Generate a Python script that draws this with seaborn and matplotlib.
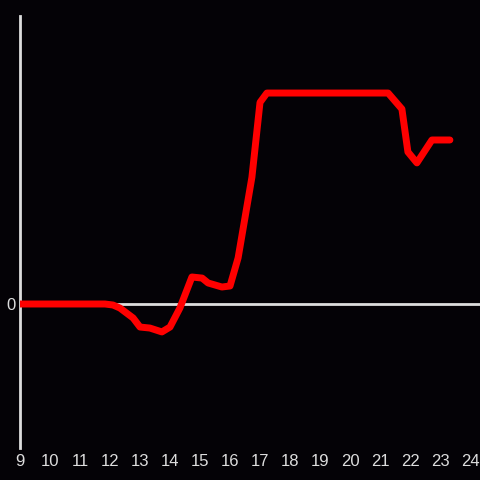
import matplotlib
matplotlib.use("Agg")
import matplotlib.pyplot as plt
import seaborn as sns
import pandas as pd

hours = [9, 11.83, 12.1, 12.33, 12.77, 13.0, 13.33, 13.73, 14.0, 14.33, 14.73,
         15.07, 15.27, 15.73, 16.0, 16.27, 16.73, 17.0, 17.23, 21.27, 21.73,
         21.93, 22.23, 22.73, 23.33]
values = [0, 0, -0.007, -0.028, -0.097, -0.16, -0.167, -0.194, -0.16, -0.028, 0.1875,
          0.18, 0.146, 0.118, 0.125, 0.32, 0.88, 1.40, 1.465, 1.465, 1.354,
          1.056, 0.98, 1.139, 1.139]
xticks = list(range(9, 25))

BG = "#040206"
FG = "#dddddd"

sns.set_style("dark", {"axes.facecolor": BG, "figure.facecolor": BG})
plt.rcParams['font.family'] = ['Liberation Sans', 'DejaVu Sans']

df = pd.DataFrame({"hour": hours, "value": values})

fig = plt.figure(figsize=(4.8, 4.8), dpi=100)
ax = fig.add_axes([20/480, 32/480, 460/480, 432/480])
ax.set_facecolor(BG)

ax.axhline(0, color=FG, linewidth=2, zorder=1)
sns.lineplot(data=df, x="hour", y="value", sort=False, color="#ff0000",
             linewidth=5, ax=ax, zorder=3)

ax.set_xlim(9, 24.333)
ax.set_ylim(-1, 2)
ax.set_xticks(xticks)
ax.set_xticklabels([str(t) for t in xticks])
ax.set_yticks([0])
ax.set_yticklabels(["0"])
ax.tick_params(axis="both", colors=FG, labelsize=12, length=0, pad=3)
ax.tick_params(axis="x", pad=4)
ax.set_xlabel("")
ax.set_ylabel("")
ax.grid(False)
for s in ["top", "right", "bottom"]:
    ax.spines[s].set_visible(False)
ax.spines["left"].set_color(FG)
ax.spines["left"].set_linewidth(2)

fig.savefig("out.png", dpi=100, facecolor=BG)
